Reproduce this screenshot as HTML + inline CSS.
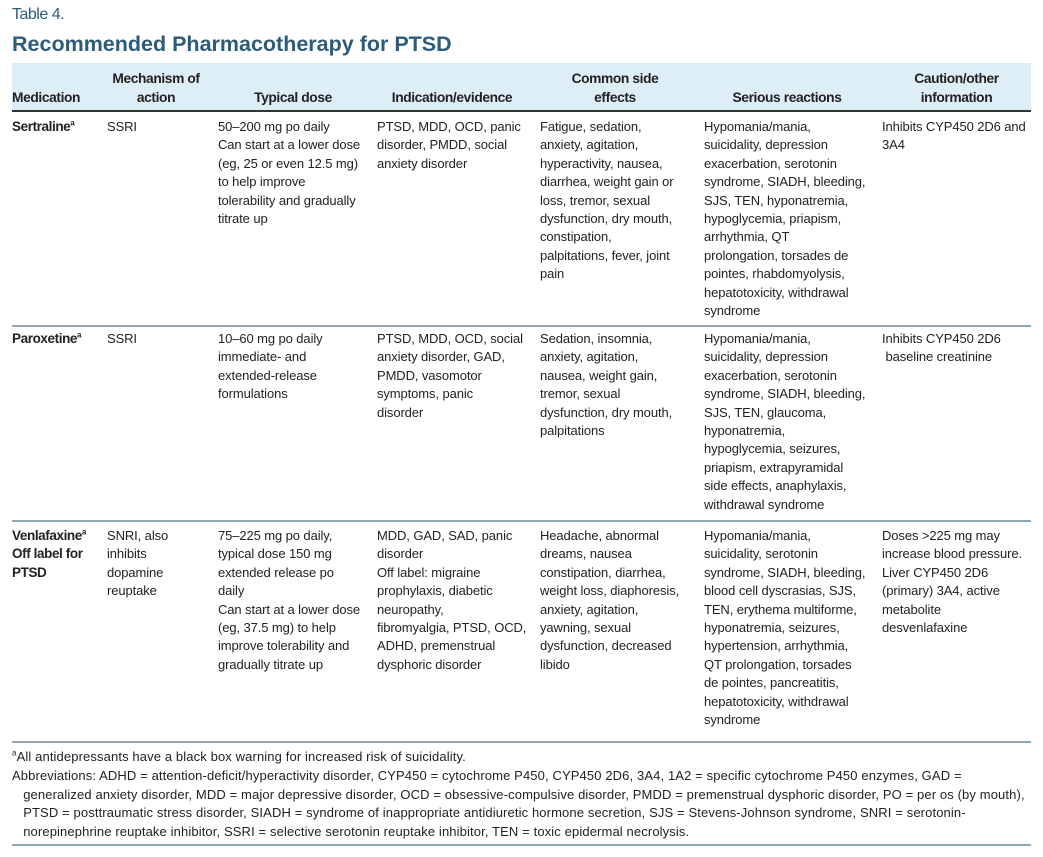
<!DOCTYPE html>
<html><head><meta charset="utf-8"><style>
body{margin:0;width:1043px;height:857px;background:#fff;position:relative;overflow:hidden;font-family:"Liberation Sans",sans-serif;color:#222}
.a{position:absolute;white-space:nowrap}
.c{position:absolute;font-size:13px;line-height:18.4px;white-space:nowrap;letter-spacing:-0.1px}
.h{position:absolute;font-size:13.8px;font-weight:bold;line-height:19px;text-align:center;letter-spacing:-0.4px;color:#222}
.med{font-weight:bold;letter-spacing:-0.4px;font-size:13.5px}
sup{font-size:8px;line-height:0}
.ln{position:absolute;left:12px;width:1019px;height:2px;background:#8ea6b6}
.fn{position:absolute;left:12px;font-size:13px;line-height:18.5px;white-space:nowrap;letter-spacing:0.12px}
</style></head><body>
<div class="a" style="left:12px;top:6px;font-size:16px;color:#2d5b7a;letter-spacing:-0.5px">Table 4.</div>
<div class="a" style="left:12px;top:32px;font-size:21.5px;font-weight:bold;color:#2d5b7a">Recommended Pharmacotherapy for PTSD</div>
<div style="position:absolute;left:12px;top:63px;width:1019px;height:48px;background:#ddeef7"></div>
<div class="ln" style="top:110px;background:#333;height:1.5px"></div>
<div class="h" style="left:12px;top:88px;text-align:left">Medication</div>
<div class="h" style="left:100px;width:112px;top:69px">Mechanism of<br>action</div>
<div class="h" style="left:218px;width:150px;top:88px">Typical dose</div>
<div class="h" style="left:377px;width:150px;top:88px">Indication/evidence</div>
<div class="h" style="left:540px;width:150px;top:69px">Common side<br>effects</div>
<div class="h" style="left:704px;width:166px;top:88px">Serious reactions</div>
<div class="h" style="left:882px;width:149px;top:69px">Caution/other<br>information</div>

<div class="c med" style="left:12px;top:118px">Sertraline<sup>a</sup></div>
<div class="c" style="left:107px;top:118px">SSRI</div>
<div class="c" style="left:218px;top:118px">50–200 mg po daily<br>Can start at a lower dose<br>(eg, 25 or even 12.5 mg)<br>to help improve<br>tolerability and gradually<br>titrate up</div>
<div class="c" style="left:377px;top:118px">PTSD, MDD, OCD, panic<br>disorder, PMDD, social<br>anxiety disorder</div>
<div class="c" style="left:540px;top:118px">Fatigue, sedation,<br>anxiety, agitation,<br>hyperactivity, nausea,<br>diarrhea, weight gain or<br>loss, tremor, sexual<br>dysfunction, dry mouth,<br>constipation,<br>palpitations, fever, joint<br>pain</div>
<div class="c" style="left:704px;top:118px">Hypomania/mania,<br>suicidality, depression<br>exacerbation, serotonin<br>syndrome, SIADH, bleeding,<br>SJS, TEN, hyponatremia,<br>hypoglycemia, priapism,<br>arrhythmia, QT<br>prolongation, torsades de<br>pointes, rhabdomyolysis,<br>hepatotoxicity, withdrawal<br>syndrome</div>
<div class="c" style="left:882px;top:118px">Inhibits CYP450 2D6 and<br>3A4</div>
<div class="ln" style="top:325px"></div>

<div class="c med" style="left:12px;top:330px">Paroxetine<sup>a</sup></div>
<div class="c" style="left:107px;top:330px">SSRI</div>
<div class="c" style="left:218px;top:330px">10–60 mg po daily<br>immediate- and<br>extended-release<br>formulations</div>
<div class="c" style="left:377px;top:330px">PTSD, MDD, OCD, social<br>anxiety disorder, GAD,<br>PMDD, vasomotor<br>symptoms, panic<br>disorder</div>
<div class="c" style="left:540px;top:330px">Sedation, insomnia,<br>anxiety, agitation,<br>nausea, weight gain,<br>tremor, sexual<br>dysfunction, dry mouth,<br>palpitations</div>
<div class="c" style="left:704px;top:330px">Hypomania/mania,<br>suicidality, depression<br>exacerbation, serotonin<br>syndrome, SIADH, bleeding,<br>SJS, TEN, glaucoma,<br>hyponatremia,<br>hypoglycemia, seizures,<br>priapism, extrapyramidal<br>side effects, anaphylaxis,<br>withdrawal syndrome</div>
<div class="c" style="left:882px;top:330px">Inhibits CYP450 2D6<br>&nbsp;baseline creatinine</div>
<div class="ln" style="top:520px"></div>

<div class="c med" style="left:12px;top:527px">Venlafaxine<sup>a</sup><br>Off label for<br>PTSD</div>
<div class="c" style="left:107px;top:527px">SNRI, also<br>inhibits<br>dopamine<br>reuptake</div>
<div class="c" style="left:218px;top:527px">75–225 mg po daily,<br>typical dose 150 mg<br>extended release po<br>daily<br>Can start at a lower dose<br>(eg, 37.5 mg) to help<br>improve tolerability and<br>gradually titrate up</div>
<div class="c" style="left:377px;top:527px">MDD, GAD, SAD, panic<br>disorder<br>Off label: migraine<br>prophylaxis, diabetic<br>neuropathy,<br>fibromyalgia, PTSD, OCD,<br>ADHD, premenstrual<br>dysphoric disorder</div>
<div class="c" style="left:540px;top:527px">Headache, abnormal<br>dreams, nausea<br>constipation, diarrhea,<br>weight loss, diaphoresis,<br>anxiety, agitation,<br>yawning, sexual<br>dysfunction, decreased<br>libido</div>
<div class="c" style="left:704px;top:527px">Hypomania/mania,<br>suicidality, serotonin<br>syndrome, SIADH, bleeding,<br>blood cell dyscrasias, SJS,<br>TEN, erythema multiforme,<br>hyponatremia, seizures,<br>hypertension, arrhythmia,<br>QT prolongation, torsades<br>de pointes, pancreatitis,<br>hepatotoxicity, withdrawal<br>syndrome</div>
<div class="c" style="left:882px;top:527px">Doses &gt;225 mg may<br>increase blood pressure.<br>Liver CYP450 2D6<br>(primary) 3A4, active<br>metabolite<br>desvenlafaxine</div>
<div class="ln" style="top:741px"></div>

<div class="fn" style="top:748px"><sup>a</sup>All antidepressants have a black box warning for increased risk of suicidality.</div>
<div class="fn" style="top:767px">Abbreviations: ADHD = attention-deficit/hyperactivity disorder, CYP450 = cytochrome P450, CYP450 2D6, 3A4, 1A2 = specific cytochrome P450 enzymes, GAD =<br>&nbsp;&nbsp;&nbsp;generalized anxiety disorder, MDD = major depressive disorder, OCD = obsessive-compulsive disorder, PMDD = premenstrual dysphoric disorder, PO = per os (by mouth),<br>&nbsp;&nbsp;&nbsp;PTSD = posttraumatic stress disorder, SIADH = syndrome of inappropriate antidiuretic hormone secretion, SJS = Stevens-Johnson syndrome, SNRI = serotonin-<br>&nbsp;&nbsp;&nbsp;norepinephrine reuptake inhibitor, SSRI = selective serotonin reuptake inhibitor, TEN = toxic epidermal necrolysis.</div>
<div class="ln" style="top:844px"></div>
</body></html>
